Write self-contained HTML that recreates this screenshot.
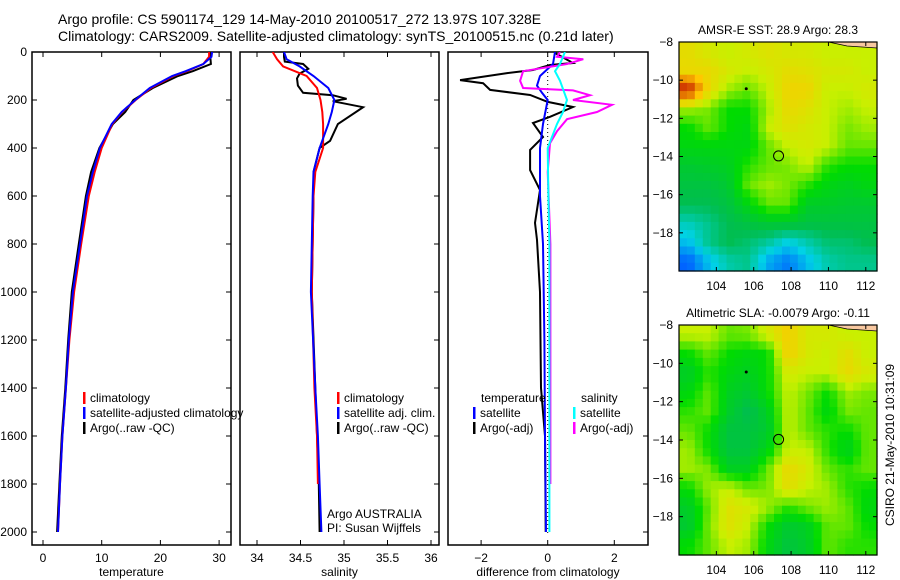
<!DOCTYPE html>
<html><head><meta charset="utf-8"><style>
body{margin:0;background:#fff;}
svg{display:block;font-family:"Liberation Sans",sans-serif;}
</style></head><body>
<svg id="fig" width="900" height="580" viewBox="0 0 900 580">
<text x="58" y="24" font-size="14">Argo profile: CS 5901174_129 14-May-2010 20100517_272 13.97S 107.328E</text>
<text x="58" y="41" font-size="14">Climatology: CARS2009. Satellite-adjusted climatology: synTS_20100515.nc (0.21d later)</text>
<g id="g"></g>
</svg>
<script>
// ---- data ----
const tDepth=[0,20,50,80,100,150,200,250,300,400,500,600,800,1000,1200,1400,1600,1800,2000];
const tempClim=[28.3,28.3,27.3,24.5,22.2,18.4,15.8,13.5,11.8,10.0,8.8,7.8,6.5,5.3,4.5,3.9,3.3,2.9,2.55];
const tempSat=[28.8,28.7,27.3,24.3,22.0,18.2,15.7,13.4,11.7,9.7,8.5,7.5,6.3,5.1,4.4,3.9,3.3,2.9,2.55];
const tempArgo=[28.5,28.5,28.6,25.5,23.0,18.7,15.4,14.0,11.9,9.6,8.2,7.3,6.1,4.9,4.3,3.8,3.2,2.8,2.4];
const sDepth=[0,30,60,100,150,200,250,300,400,500,600,1000,1400,1600,1800,2000];
const salClim=[34.18,34.23,34.3,34.57,34.69,34.73,34.75,34.76,34.76,34.67,34.65,34.63,34.66,34.69,34.7,null];
const salSat=[34.31,34.34,34.49,34.65,34.82,34.89,34.86,34.82,34.72,34.65,34.64,34.62,34.67,34.7,34.72,34.74];
const aDepth=[0,20,40,50,70,90,110,140,170,180,195,205,230,300,370,400,500,600,1000,1400,1800,2000];
const salArgo=[34.31,34.31,34.32,34.53,34.59,34.49,34.46,34.47,34.53,34.87,35.03,34.87,35.22,34.93,34.84,34.72,34.65,34.65,34.63,34.67,34.71,34.72];
const dDepth=[4,46,54,75,88,117,130,158,179,208,229,270,296,354,408,492,575,712,783,1000,1400,1600,2000];
const dTempArgo=[0.22,0.76,0.07,-0.44,-1.22,-2.63,-1.94,-1.73,-0.53,0,0.76,0.07,-0.44,-0.14,-0.53,-0.53,-0.23,-0.38,-0.32,-0.23,-0.2,-0.08,-0.06];
const sdDepth=[0,50,100,140,170,200,300,400,600,800,1200,1600,2000];
const dTempSat=[0.22,0.16,-0.23,-0.32,-0.17,0,-0.14,-0.23,-0.23,-0.14,-0.1,-0.08,-0.05];
const cDepth=[0,50,80,120,200,250,300,400,600,800,1200,1600,2000];
const dSalSat=[0.52,0.37,0.22,0.37,0.58,0.46,0.28,0,0.02,0.05,0.05,0.05,0.05];
const mDepth=[0,20,30,50,80,120,150,160,180,200,220,250,280,330,380,500,800,1200,1600,1800];
const dSalArgo=[0.37,0.28,1.07,0.58,-0.74,-0.83,-0.74,0.76,1.27,0.76,1.93,1.48,0.58,0.28,0.07,0,0.08,0.08,0.08,0.08];
const depthTicks=[0,200,400,600,800,1000,1200,1400,1600,1800,2000];
const tempTicks=[0,10,20,30];
const salTicks=[34,34.5,35,35.5,36];
const diffTicks=[-2,0,2];
const lonTicks=[104,106,108,110,112];
const latTicks=[-8,-10,-12,-14,-16,-18];
const sstGrid=[
[0.65,0.62,0.6,0.62,0.64,0.62,0.62,0.6,0.6,0.6],
[0.66,0.66,0.62,0.6,0.62,0.65,0.64,0.62,0.62,0.6],
[0.85,0.66,0.58,0.55,0.6,0.67,0.67,0.6,0.6,0.62],
[0.58,0.56,0.5,0.5,0.58,0.66,0.64,0.6,0.58,0.6],
[0.5,0.55,0.5,0.48,0.6,0.64,0.62,0.6,0.56,0.58],
[0.48,0.48,0.48,0.48,0.55,0.6,0.62,0.6,0.55,0.55],
[0.44,0.45,0.46,0.52,0.55,0.56,0.6,0.52,0.5,0.5],
[0.42,0.42,0.44,0.55,0.58,0.56,0.52,0.48,0.46,0.48],
[0.4,0.4,0.42,0.48,0.55,0.55,0.45,0.45,0.44,0.44],
[0.33,0.36,0.4,0.42,0.44,0.44,0.42,0.42,0.42,0.42],
[0.28,0.36,0.4,0.38,0.35,0.3,0.34,0.38,0.38,0.4],
[0.2,0.28,0.34,0.36,0.26,0.22,0.28,0.34,0.36,0.36]];
const slaGrid=[
[0.6,0.6,0.55,0.56,0.62,0.68,0.62,0.62,0.6,0.6],
[0.5,0.55,0.5,0.48,0.5,0.68,0.62,0.6,0.65,0.6],
[0.45,0.52,0.48,0.46,0.5,0.62,0.6,0.6,0.66,0.62],
[0.48,0.55,0.46,0.44,0.5,0.6,0.56,0.5,0.58,0.56],
[0.52,0.55,0.45,0.4,0.46,0.6,0.55,0.48,0.56,0.55],
[0.55,0.5,0.42,0.42,0.44,0.6,0.55,0.52,0.5,0.55],
[0.58,0.5,0.42,0.42,0.48,0.6,0.6,0.52,0.46,0.55],
[0.58,0.56,0.46,0.46,0.55,0.66,0.62,0.55,0.52,0.55],
[0.5,0.58,0.6,0.55,0.56,0.65,0.6,0.58,0.52,0.5],
[0.45,0.55,0.64,0.62,0.58,0.52,0.56,0.58,0.55,0.48],
[0.44,0.56,0.64,0.6,0.5,0.44,0.46,0.55,0.55,0.5],
[0.5,0.55,0.6,0.58,0.48,0.42,0.45,0.55,0.52,0.52]];
const argoLon=107.33, argoLat=-13.97;

// ---- drawing ----
const NS='http://www.w3.org/2000/svg';
const G=document.getElementById('g');
function mk(tag,at,parent){const e=document.createElementNS(NS,tag);for(const k in at)e.setAttribute(k,at[k]);(parent||G).appendChild(e);return e;}
function txt(x,y,s,size,anchor,parent){const t=mk('text',{x:x,y:y,'font-size':size,'text-anchor':anchor||'start'},parent);t.textContent=s;return t;}
const PT=52,PB=545;
const yD=d=>52+d*0.24;
function panel(id,x0,x1,xs,xt,xlab,name){
  const cp=mk('clipPath',{id:id});mk('rect',{x:x0,y:PT,width:x1-x0,height:PB-PT},cp);
  const fr=mk('rect',{x:x0,y:PT,width:x1-x0,height:PB-PT,fill:'none',stroke:'#000','stroke-width':1.5});
  
  
  xt.forEach(v=>{const x=xs(v);
    mk('line',{x1:x,x2:x,y1:PB,y2:PB-5,stroke:'#000'});mk('line',{x1:x,x2:x,y1:PT,y2:PT+5,stroke:'#000'});
    const t=txt(x,562,String(v).replace('-','\u2212'),12,'middle');
    
    });
  depthTicks.forEach(d=>{const y=yD(d);mk('line',{x1:x1,x2:x1-5,y1:y,y2:y,stroke:'#000'});
    if(x0<40){mk('line',{x1:x0,x2:x0+5,y1:y,y2:y,stroke:'#000'});
      const t=txt(27,y+4,String(d),12,'end');
      
      }});
  const l=txt((x0+x1)/2,576,xlab,12,'middle');
  
  
}
function line(id,depths,vals,xs,color,name){
  let d='';depths.forEach((z,i)=>{if(vals[i]===null)return;d+=(d?'L':'M')+xs(vals[i]).toFixed(1)+','+yD(z).toFixed(1);});
  const p=mk('path',{d:d,fill:'none',stroke:color,'stroke-width':2,'clip-path':'url(#'+id+')'});
  
  
}
function legend(x,y,items,name){items.forEach((it,i)=>{
  mk('rect',{x:x,y:y+i*15-10,width:2.5,height:12,fill:it[0]});
  const t=txt(x+7,y+i*15,it[1],12);
  
  });}

const xT=v=>43+5.87*v;
panel('c1',32,231,xT,tempTicks,'temperature','temperature-panel');
line('c1',tDepth,tempArgo,xT,'#000','temperature-argo-line');
line('c1',tDepth,tempClim,xT,'#f00','temperature-climatology-line');
line('c1',tDepth,tempSat,xT,'#00f','temperature-satellite-line');
legend(83,402,[['#f00','climatology'],['#00f','satellite-adjusted climatology'],['#000','Argo(..raw -QC)']],'temperature-legend-entry');

const xS=v=>257+87*(v-34);
panel('c2',240,439,xS,salTicks,'salinity','salinity-panel');
line('c2',aDepth,salArgo,xS,'#000','salinity-argo-line');
line('c2',sDepth,salClim,xS,'#f00','salinity-climatology-line');
line('c2',sDepth,salSat,xS,'#00f','salinity-satellite-line');
legend(337,402,[['#f00','climatology'],['#00f','satellite adj. clim.'],['#000','Argo(..raw -QC)']],'salinity-legend-entry');
let t1=txt(327,518,'Argo AUSTRALIA',12);
let t2=txt(327,532,'PI: Susan Wijffels',12);

const xD=v=>547.7+33.3*v;
panel('c3',448,648,xD,diffTicks,'difference from climatology','difference-panel');
mk('line',{x1:xD(0),x2:xD(0),y1:PT,y2:PB-10,stroke:'#000','stroke-dasharray':'1,3'});
line('c3',dDepth,dTempArgo,xD,'#000','temp-diff-argo-line');
line('c3',sdDepth,dTempSat,xD,'#00f','temp-diff-satellite-line');
line('c3',mDepth,dSalArgo,xD,'#f0f','sal-diff-argo-line');
line('c3',cDepth,dSalSat,xD,'#0ff','sal-diff-satellite-line');
let lt=txt(481,402,'temperature',12);
legend(473,417,[['#00f','satellite'],['#000','Argo(-adj)']],'temp-diff-legend-entry');
let ls=txt(581,402,'salinity',12);
legend(573,417,[['#0ff','satellite'],['#f0f','Argo(-adj)']],'sal-diff-legend-entry');

// colormap
const stops=[[0,[0,0,200]],[0.2,[0,100,255]],[0.3,[0,210,230]],[0.4,[0,190,80]],[0.5,[0,220,0]],[0.6,[200,240,0]],[0.7,[255,200,0]],[0.85,[200,30,0]],[1,[130,0,0]]];
function cmap(v){for(let i=1;i<stops.length;i++){if(v<=stops[i][0]){const a=stops[i-1],b=stops[i],f=(v-a[0])/(b[0]-a[0]);
  return 'rgb('+a[1].map((c,k)=>Math.round(c+(b[1][k]-c)*f)).join(',')+')';}}return 'rgb(130,0,0)';}
function sample(grid,r,c){ // bilinear sample at fractional row/col (cell centers)
  const nr=grid.length,nc=grid[0].length;
  r=Math.max(0,Math.min(nr-1,r));c=Math.max(0,Math.min(nc-1,c));
  const r0=Math.floor(r),c0=Math.floor(c),r1=Math.min(nr-1,r0+1),c1=Math.min(nc-1,c0+1),fr=r-r0,fc=c-c0;
  return grid[r0][c0]*(1-fr)*(1-fc)+grid[r0][c1]*(1-fr)*fc+grid[r1][c0]*fr*(1-fc)+grid[r1][c1]*fr*fc;
}
function map(y0,y1,grid,title,name){
  const x0=679,x1=877,lonMin=102,lonMax=112.6,latMax=-8,latMin=-20;
  const xs=l=>x0+(l-lonMin)/(lonMax-lonMin)*(x1-x0);
  const ys=a=>y0+(latMax-a)/(latMax-latMin)*(y1-y0);
  const nr=grid.length,nc=grid[0].length,NR=28,NC=25;
  for(let r=0;r<NR;r++)for(let c=0;c<NC;c++){
    const v=sample(grid,(r+0.5)/NR*nr-0.5,(c+0.5)/NC*nc-0.5);
    const xa=x0+c*(x1-x0)/NC,ya=y0+r*(y1-y0)/NR;
    const cell=mk('rect',{x:xa.toFixed(1),y:ya.toFixed(1),width:((x1-x0)/NC+0.6).toFixed(1),height:((y1-y0)/NR+0.6).toFixed(1),fill:cmap(v)});
    
    }
  mk('path',{d:`M${xs(110)},${y0} L${xs(112.6)},${y0} L${xs(112.6)},${y0+6} L${xs(111)},${y0+4} Z`,fill:'#f8c8a0',stroke:'#000','stroke-width':0.8});
  const fr=mk('rect',{x:x0,y:y0,width:x1-x0,height:y1-y0,fill:'none',stroke:'#000','stroke-width':1.2});
  
  const m=mk('circle',{cx:xs(argoLon),cy:ys(argoLat),r:5,fill:'none',stroke:'#000'});
  
  mk('circle',{cx:xs(105.6),cy:ys(-10.45),r:1.5,fill:'#000'});
  lonTicks.forEach(l=>{const x=xs(l);mk('line',{x1:x,x2:x,y1:y1,y2:y1-4,stroke:'#000'});mk('line',{x1:x,x2:x,y1:y0,y2:y0+4,stroke:'#000'});
    const t=txt(x,y1+19,String(l),12,'middle');});
  latTicks.forEach(a=>{const y=ys(a);mk('line',{x1:x0,x2:x0+4,y1:y,y2:y,stroke:'#000'});mk('line',{x1:x1,x2:x1-4,y1:y,y2:y,stroke:'#000'});
    const t=txt(x0-6,y+4,String(a).replace('-','\u2212'),12,'end');});
  const tt=txt((x0+x1)/2,y0-8,title,12,'middle');
}
map(42,271,sstGrid,'AMSR-E SST: 28.9 Argo: 28.3','sst-map');
map(325,555,slaGrid,'Altimetric SLA: -0.0079 Argo: -0.11','sla-map');
const cs=txt(0,0,'CSIRO 21-May-2010 10:31:09',12,'middle');
cs.setAttribute('transform','translate(894,445) rotate(-90)');


</script>
</body></html>
